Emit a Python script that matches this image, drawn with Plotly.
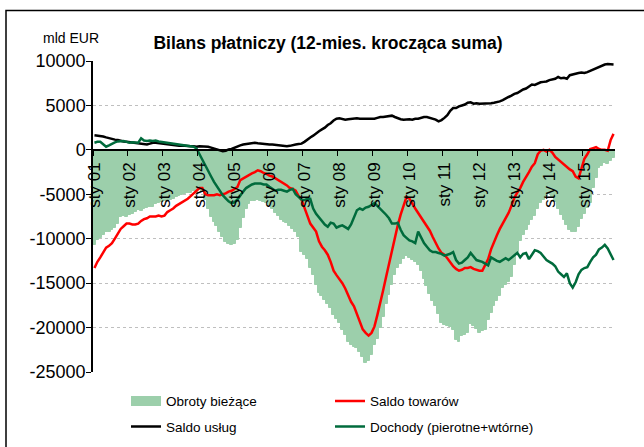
import plotly.graph_objects as go

# ---------------- data (monthly, Jan 2001 .. Nov 2015, 12-month rolling sums, mln EUR) -------------
years = list(range(2001, 2016))
months = [f"{y}-{m:02d}" for y in years for m in range(1, 13)][:179]

tick_labels = ["sty 01", "sty 02", "sty 03", "sty 04", "sty 05", "sty 06", "sty 07", "sty 08",
               "sty 09", "sty 10", "sty 11", "sty 12", "sty 13", "sty 14", "sty 15"]

y_ticks = [10000, 5000, 0, -5000, -10000, -15000, -20000, -25000]
y_tick_labels = ["10000", "5000", "0", "-5000", "-10000", "-15000", "-20000", "-25000"]

obroty_biezace = [  # current account (bars)
    -10700, -10200, -9900, -9600, -9300, -9200, -9000, -8800, -8300, -7600, -7400, -7500,
    -7300, -7200, -7000, -6800, -6900, -6600, -6500, -6400, -6400, -6100, -6000, -5900,
    -5800, -5700, -5600, -5500, -5300, -5200, -5100, -5000, -4900, -4800, -4600, -4700,
    -4500, -4700, -5600, -6600, -7500, -8100, -8600, -9300, -9800, -10400, -10600, -10700,
    -10600, -10200, -8800, -7700, -6600, -6100, -5800, -5700, -5600, -5700, -5900, -6000,
    -6200, -6600, -7100, -7400, -7900, -8100, -8200, -8600, -8900, -9200, -9800, -11500,
    -11800, -12300, -13300, -14100, -15200, -16100, -16500, -16900, -17300, -17800, -18600, -19000,
    -19500, -20300, -20800, -21600, -22000, -22200, -22300, -22700, -23300, -24000, -23800, -23100,
    -22000, -21300, -20000, -18800, -17400, -16300, -15200, -14100, -13300, -12800, -12300, -12000,
    -12200, -12400, -12600, -13000, -13600, -14500, -15300, -16200, -17000, -17600, -18500, -19500,
    -19700, -19800, -19900, -20300, -21400, -21600, -21000, -20800, -20600, -19600, -19800, -20200,
    -20600, -20400, -20300, -19200, -18400, -17600, -17000, -16400, -15600, -15200, -14900, -14300,
    -13000, -11500, -10300, -9600, -9000, -8400, -7900, -7400, -6600, -6000, -5600, -5200,
    -5000, -5300, -5900, -6600, -7300, -7900, -8500, -9000, -9300, -9200, -8700, -7800,
    -7200, -6500, -6000, -4300, -3200, -2000, -1800, -1500, -1600, -1200, -900,
]

saldo_towarow = [  # goods balance (red)
    -13300, -12600, -12100, -11600, -11000, -10800, -10500, -10000, -9400, -8900, -8600, -8300,
    -8300, -8400, -8400, -8300, -8000, -7800, -7700, -7500, -7500, -7500, -7400, -7500,
    -7400, -7000, -6800, -6600, -6300, -6100, -5900, -5700, -5500, -5200, -4900, -4600,
    -4300, -4300, -5000, -5100, -5100, -5100, -5000, -5100, -5000, -4900, -4700, -4600,
    -4400, -4200, -3400, -3200, -3000, -2800, -2650, -2500, -2300, -2400, -2600, -2700,
    -2900, -3000, -3200, -3400, -3600, -3800, -4000, -4300, -4400, -4600, -5200, -5600,
    -6600, -7400, -8300, -8700, -9200, -10300, -10900, -11300, -11800, -12600, -13600, -14100,
    -14500, -15000, -15600, -16400, -17100, -17600, -18500, -19200, -20200, -20600, -20900, -20600,
    -19900, -18600, -17300, -15800, -14300, -12800, -11400, -9900, -8500, -7300, -6200, -5300,
    -5500, -6100, -6600, -7100, -7600, -8000, -8500, -9100, -9800, -10500, -11100, -11600,
    -11800, -12200, -12700, -13100, -13400, -13600, -13500, -13300, -13300, -13200, -13400, -13500,
    -13600, -13600, -13000, -12300, -11200, -10300, -9600, -8900, -8300, -7700, -7100, -6300,
    -5400, -4800, -4300, -3600, -3100, -2500, -1900, -1500, -500, -100, 0, -200,
    0, -300, -800, -1100, -1400, -1600, -1900, -2200, -2400, -3000, -3200, -2000,
    -1000, -500, 100, 200, 300, 100, 0, 0, -100, 1100, 1800,
]

saldo_uslug = [  # services balance (black)
    1650, 1600, 1600, 1500, 1400, 1300, 1250, 1150, 1100, 1000, 950, 900,
    850, 800, 800, 700, 700, 650, 600, 700, 800, 800, 750, 700,
    700, 650, 600, 500, 450, 450, 500, 450, 450, 400, 400, 350,
    400, 400, 400, 350, 250, 150, 50, -100, -150, -100, 50, 100,
    250, 400, 500, 600, 650, 700, 750, 800, 750, 700, 650, 650,
    600, 600, 550, 550, 500, 450, 400, 450, 550, 600, 650, 700,
    900, 1200, 1400, 1600, 1900, 2100, 2300, 2500, 2800, 3000, 3300, 3500,
    3550, 3450, 3400, 3450, 3500, 3500, 3550, 3500, 3500, 3500, 3450, 3500,
    3500, 3600, 3700, 3700, 3750, 3800, 3850, 3700, 3550, 3450, 3400, 3450,
    3450, 3400, 3500, 3500, 3600, 3700, 3700, 3600, 3500, 3400, 3200, 3350,
    3600, 3900, 4400, 4700, 4700, 4900, 5000, 5100, 5300, 5350, 5200, 5250,
    5200, 5200, 5250, 5200, 5250, 5300, 5350, 5450, 5600, 5800, 5950, 6100,
    6300, 6400, 6600, 6800, 6900, 7100, 7350, 7300, 7450, 7600, 7650, 7700,
    7850, 7950, 8000, 8200, 8050, 8100, 8000, 8400, 8500, 8600, 8650, 8700,
    8650, 8750, 8900, 9050, 9200, 9350, 9450, 9600, 9650, 9600, 9600,
]

dochody = [  # primary + secondary income (dark green)
    800, 900, 900, 600, 350, 500, 700, 850, 950, 1000, 1000, 900,
    800, 850, 800, 800, 1300, 1050, 1000, 1050, 1000, 1050, 950, 900,
    900, 850, 800, 700, 650, 600, 550, 500, 450, 450, 350, 150,
    -500, -1200, -1700, -2400, -3000, -3600, -4100, -4700, -5100, -5450, -5800, -6000,
    -5900, -5600, -5100, -4700, -4300, -4100, -3900, -3800, -3800, -3800, -3900, -3900,
    -4150, -4400, -4600, -4500, -4500, -4600, -4700, -4500, -4400, -5000, -5300, -5600,
    -5650, -5500, -5500, -6600, -7200, -7600, -8100, -8400, -8650, -8200, -8300, -8750,
    -8600, -8500, -8700, -8900, -8400, -7600, -6800, -6600, -6750, -6500, -6400, -6200,
    -6000, -6300, -6600, -6900, -7300, -7700, -8300, -8300, -8200, -9000, -9600, -9900,
    -10200, -10300, -10500, -9200, -9900, -10500, -10900, -11300, -11500, -11500, -11600, -11700,
    -11900, -11800, -11700, -11500, -12400, -12800, -12700, -12400, -12100, -11600, -12000, -12400,
    -12500, -12600, -12800, -13000, -12100, -12300, -12500, -12600, -12400, -12200, -12400, -12100,
    -11800, -11600, -12100, -11700, -11600, -12300, -11800, -11300, -11400, -11600, -12000, -12400,
    -12600, -12800, -13100, -13700, -14000, -14300, -13900, -15000, -15500, -14900, -14000, -13500,
    -13300, -13200, -12600, -12100, -11800, -11200, -11000, -10700, -11100, -11800, -12400,
]

# ---------------- styling / geometry ----------------
W, H = 644, 447
L, R, T, B = 93, 29, 60.7, 74.8
PW, PH = W - L - R, H - T - B

def px_x(p):  # pixel -> paper x
    return (p - L) / PW

def px_y(p):  # pixel -> paper y
    return (H - B - p) / PH

FONT = "Liberation Sans, Arial, sans-serif"
C_BAR = "#9CCFAB"
C_RED = "#FF0000"
C_BLACK = "#000000"
C_GREEN = "#006B3C"

n = len(months)
x = list(range(n))

fig = go.Figure()
fig.add_trace(go.Bar(x=x, y=obroty_biezace, name="Obroty bieżące", marker_color=C_BAR,
                     marker_line_color=C_BAR, marker_line_width=1, width=1,
                     showlegend=False, legendgroup="ob", customdata=months,
                     hovertemplate="%{customdata}: %{y}<extra></extra>"))
fig.add_trace(go.Scatter(x=[None], y=[None], mode="lines", name="Obroty bieżące",
                         line=dict(color=C_BAR, width=10), legendgroup="ob", legend="legend"))
fig.add_trace(go.Scatter(x=x, y=saldo_towarow, mode="lines", name="Saldo towarów",
                         line=dict(color=C_RED, width=2.5), customdata=months,
                         legendgroup="st", legend="legend2",
                         hovertemplate="%{customdata}: %{y}<extra></extra>"))
fig.add_trace(go.Scatter(x=x, y=saldo_uslug, mode="lines", name="Saldo usług",
                         line=dict(color=C_BLACK, width=2.5), customdata=months,
                         legendgroup="su", legend="legend",
                         hovertemplate="%{customdata}: %{y}<extra></extra>"))
fig.add_trace(go.Scatter(x=x, y=dochody, mode="lines", name="Dochody (pierotne+wtórne)",
                         line=dict(color=C_GREEN, width=2.5), customdata=months,
                         legendgroup="do", legend="legend2",
                         hovertemplate="%{customdata}: %{y}<extra></extra>"))

ymin, ymax = y_ticks[-1], y_ticks[0]
zero_pos = (0 - ymin) / (ymax - ymin)

legend_common = dict(orientation="v", yanchor="top", y=px_y(386),
                     font=dict(size=13.5, family=FONT, color="black"),
                     bgcolor="rgba(0,0,0,0)", itemwidth=30,
                     traceorder="grouped", tracegroupgap=5)

fig.update_layout(
    width=W, height=H,
    margin=dict(l=L, r=R, t=T, b=B, pad=0, autoexpand=False),
    paper_bgcolor="white", plot_bgcolor="white",
    font=dict(family=FONT, color="black", size=14),
    bargap=0,
    showlegend=True,
    title=dict(text="<b>Bilans płatniczy (12-mies. krocząca suma)</b>",
               font=dict(size=17.5, family=FONT, color="black"),
               xref="container", x=328 / W, xanchor="center",
               yref="container", y=1 - 43 / H, yanchor="middle"),
    legend=dict(x=px_x(126), xanchor="left", **legend_common),
    legend2=dict(x=px_x(330), xanchor="left", **legend_common),
    xaxis=dict(range=[-0.5, n - 0.5], anchor="free", position=zero_pos,
               showline=True, linecolor="black", linewidth=1.5,
               showgrid=False, zeroline=False,
               tickmode="array", tickvals=[12 * k for k in range(len(tick_labels))],
               ticktext=tick_labels, tickangle=-90,
               ticks="outside", ticklen=5, tickcolor="rgba(0,0,0,0)",
               tickfont=dict(size=17, family=FONT, color="black"),
               minor=dict(tickvals=[12 * k - 0.5 for k in range(len(tick_labels))],
                          ticks="outside", ticklen=5, tickcolor="black", tickwidth=1)),
    yaxis=dict(range=[ymin, ymax], showline=True, linecolor="black", linewidth=1.5,
               tickmode="array", tickvals=y_ticks, ticktext=y_tick_labels,
               ticks="outside", ticklen=5, tickcolor="black",
               tickfont=dict(size=18, family=FONT, color="black"),
               ticklabelstandoff=-3,
               showgrid=True, gridcolor="#BFBFBF", griddash="dot", gridwidth=1,
               zeroline=False),
    annotations=[dict(text="mld EUR", xref="paper", yref="paper", x=px_x(41), y=px_y(38),
                      xanchor="left", yanchor="middle", showarrow=False,
                      font=dict(size=14, family=FONT, color="black"))],
    shapes=[dict(type="rect", xref="paper", yref="paper", x0=px_x(6), y0=px_y(10),
                 x1=px_x(700), y1=px_y(500), line=dict(color="black", width=1.5),
                 fillcolor="rgba(0,0,0,0)", layer="above")],
)

fig.write_html("out.html", config={"displayModeBar": False},
               post_script="document.body.style.margin='0px';")
